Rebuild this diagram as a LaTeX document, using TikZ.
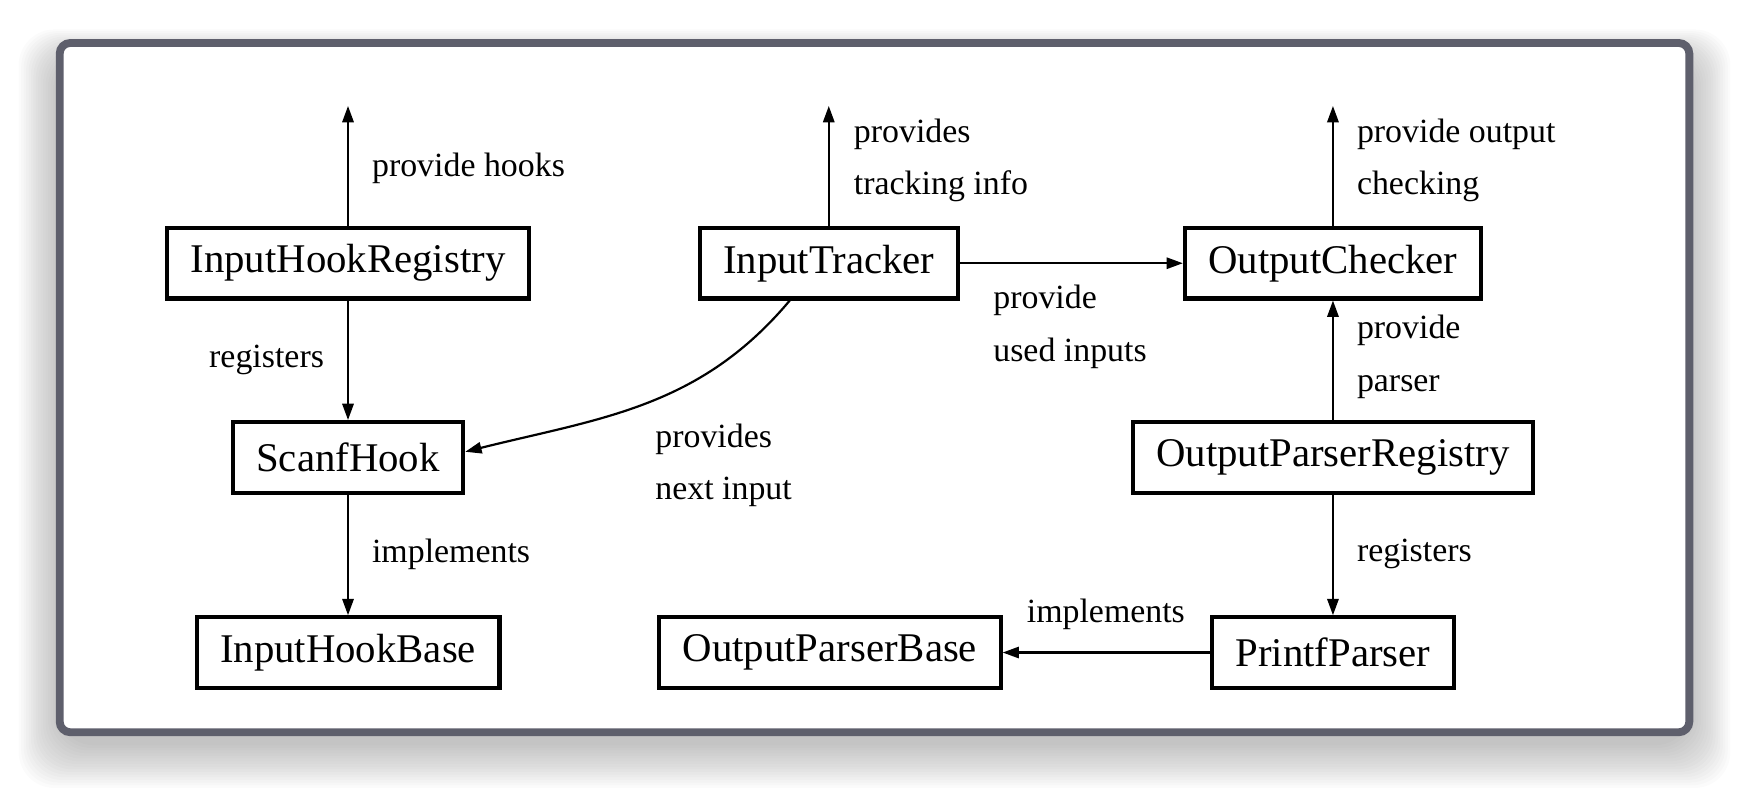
\documentclass[tikz,border=0pt]{standalone}
\usepackage{fontspec}
\setmainfont{Liberation Serif}
\usetikzlibrary{arrows.meta}
\definecolor{framegray}{RGB}{94,95,108}
\tikzset{
  cls/.style={draw=black, line width=1.3pt, fill=white, inner xsep=7.5pt, minimum height=0.79cm, font=\fontsize{13}{15}\selectfont},
  rel/.style={anchor=west, align=left, font=\fontsize{10.8}{16.7}\selectfont},
  link/.style={draw, line width=0.7pt, -{Triangle[length=5.2pt,width=3.6pt]}}
}
\begin{document}
\begin{tikzpicture}[scale=0.25]
\tikzstyle{every node}+=[inner sep=0pt]
\useasboundingbox (0,0) rectangle (78.4,-36.3);
% window shadow and frame
\foreach \s in {0,...,16}
  \fill [black, opacity=0.016, rounded corners=4mm] (2.6-0.11*\s,-2.6+0.08*\s) rectangle (75.8+0.11*\s,-33.4-0.12*\s);
\draw [framegray, line width=2.5pt, fill=white, rounded corners=1.2mm] (2.675,-1.925) rectangle (75.725,-32.825);
% classes
\node [cls] (hookreg) at (15.6,-11.8) {InputHookRegistry};
\node [cls] (scanf) at (15.6,-20.5) {ScanfHook};
\node [cls] (hookbase) at (15.6,-29.25) {InputHookBase};
\node [cls] (tracker) at (37.15,-11.8) {InputTracker};
\node [cls] (checker) at (59.75,-11.8) {OutputChecker};
\node [cls] (parserreg) at (59.75,-20.5) {OutputParserRegistry};
\node [cls] (printf) at (59.75,-29.25) {PrintfParser};
\node [cls] (parserbase) at (37.2,-29.25) {OutputParserBase};
% free ends
\coordinate (hooktop) at (15.6,-4.75);
\coordinate (trackertop) at (37.15,-4.75);
\coordinate (checkertop) at (59.75,-4.75);
% relations
\draw [link] (hookreg.north) -- (hooktop);
\draw [link] (tracker.north) -- (trackertop);
\draw [link] (checker.north) -- (checkertop);
\draw [link] (hookreg) -- (scanf);
\draw [link] (scanf) -- (hookbase);
\draw [link] ([xshift=-1.75cm]tracker.south) to [out=-130,in=14] ([yshift=0.25cm]scanf.east);
\draw [link] (tracker) -- (checker);
\draw [link] (parserreg) -- (checker);
\draw [link] (parserreg) -- (printf);
\draw [link] (printf) -- (parserbase);
% labels
\node [rel] (lhooks) at (16.65,-7.55) {provide hooks};
\node [rel, anchor=east] (lreg) at (14.55,-16.15) {registers};
\node [rel] (limpl) at (16.65,-24.85) {implements};
\node [rel] (ltrack) at (38.25,-7.2) {provides\\tracking info};
\node [rel] (lused) at (44.5,-14.65) {provide\\used inputs};
\node [rel] (lnext) at (29.35,-20.85) {provides\\next input};
\node [rel] (lcheck) at (60.8,-7.2) {provide output\\checking};
\node [rel] (lparser) at (60.8,-16.0) {provide\\parser};
\node [rel] (lpreg) at (60.8,-24.85) {registers};
\node [rel] (lpimpl) at (46,-27.55) {implements};
\end{tikzpicture}
\end{document}
